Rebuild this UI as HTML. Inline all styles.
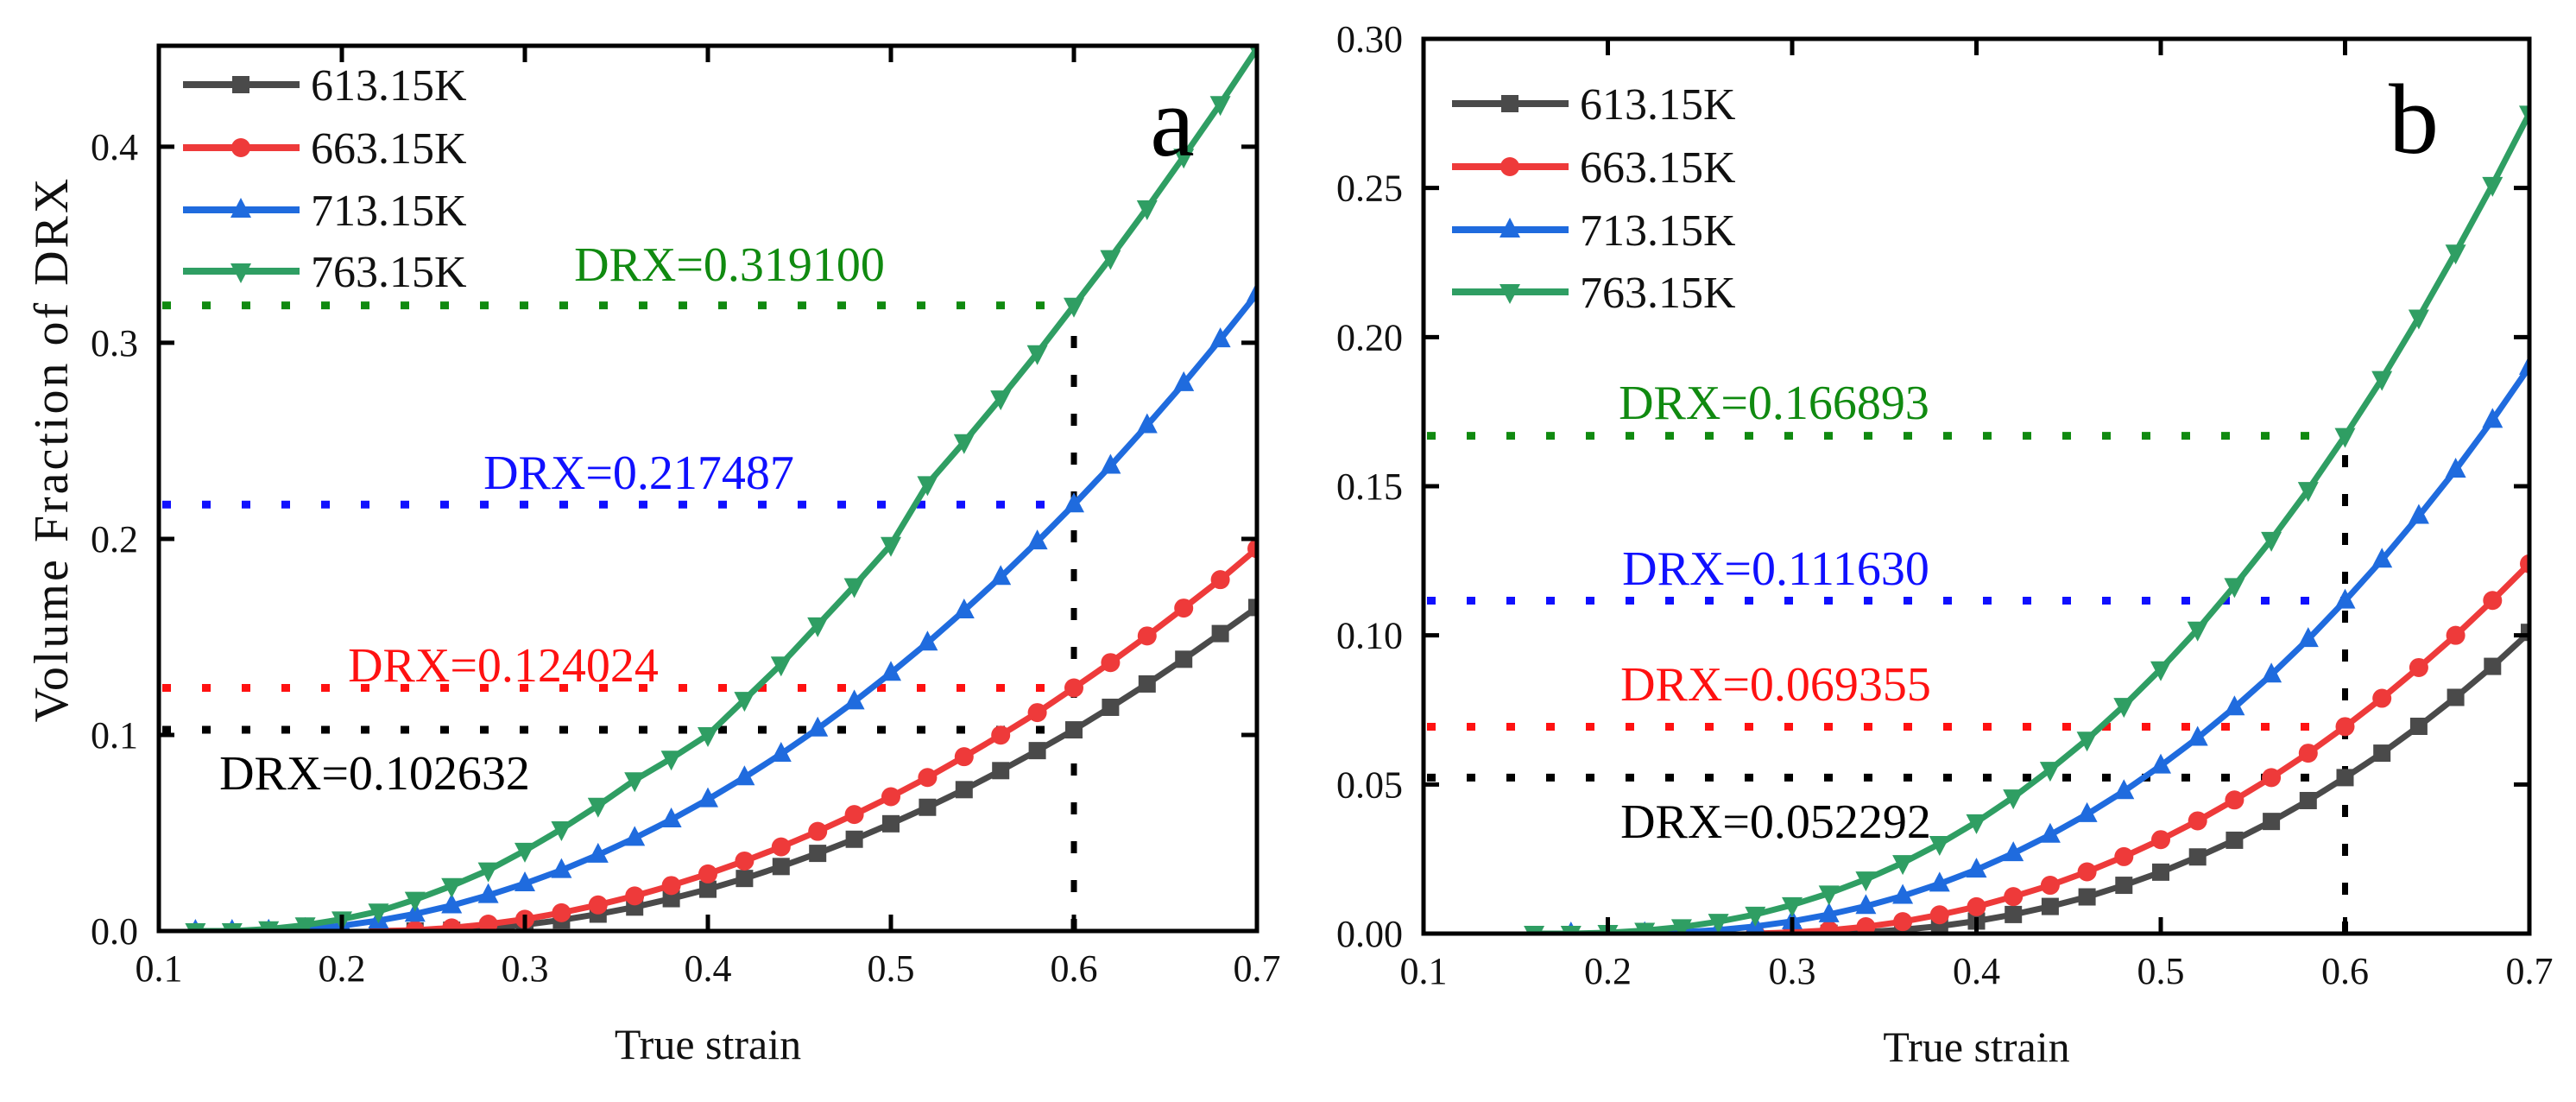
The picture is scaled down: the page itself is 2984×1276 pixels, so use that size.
<!DOCTYPE html>
<html><head><meta charset="utf-8"><style>
html,body{margin:0;padding:0;background:#fff;}
svg{display:block;}
text{font-family:"Liberation Serif",serif;}
</style></head>
<body>
<svg id="chart" width="2984" height="1276" viewBox="0 0 2984 1276" xmlns="http://www.w3.org/2000/svg"></svg>
<script>
// ---- Panel a data ----
const strainA = [0.12,0.14,0.16,0.18,0.20,0.22,0.24,0.26,0.28,0.30,0.32,0.34,0.36,0.38,0.40,0.42,0.44,0.46,0.48,0.50,0.52,0.54,0.56,0.58,0.60,0.62,0.64,0.66,0.68,0.70];
const a613 = [null,null,null,null,null,null,0,0.0004,0.00145,0.0032,0.0056,0.0086,0.0122,0.0165,0.0213,0.0268,0.0329,0.0396,0.0468,0.0547,0.0631,0.0721,0.0818,0.092,0.1026,0.1141,0.126,0.1386,0.1517,0.165];
const a663 = [null,null,null,null,null,0,0.0004,0.0016,0.0035,0.006,0.0093,0.0133,0.0179,0.0232,0.0291,0.0357,0.0429,0.0508,0.0594,0.0685,0.0783,0.0889,0.0999,0.1114,0.124,0.1369,0.1505,0.1647,0.1792,0.195];
const a713 = [0,0,0.0001,0.001,0.0027,0.0053,0.0087,0.013,0.0182,0.0242,0.031,0.0388,0.0474,0.0568,0.0671,0.0783,0.0903,0.1032,0.117,0.1316,0.147,0.1634,0.1805,0.1986,0.2175,0.2372,0.2579,0.2793,0.3017,0.325];
const a763 = [0,0,0.001,0.003,0.006,0.01,0.016,0.023,0.031,0.041,0.052,0.064,0.077,0.088,0.100,0.118,0.136,0.156,0.176,0.197,0.228,0.2494,0.2717,0.2948,0.319,0.3433,0.3687,0.395,0.4219,0.45];
const drxA = [0.102632,0.124024,0.217487,0.319100];
// ---- Panel b data ----
const strainB = [0.16,0.18,0.20,0.22,0.24,0.26,0.28,0.30,0.32,0.34,0.36,0.38,0.40,0.42,0.44,0.46,0.48,0.50,0.52,0.54,0.56,0.58,0.60,0.62,0.64,0.66,0.68,0.70];
const b613 = [null,null,null,null,null,null,null,0,0.0001,0.0005,0.0013,0.0025,0.0042,0.0064,0.0091,0.0123,0.0162,0.0206,0.0257,0.0313,0.0376,0.0446,0.0523,0.0605,0.0695,0.0792,0.0896,0.101];
const b663 = [null,null,null,null,null,null,0,0.0004,0.0011,0.0023,0.004,0.0063,0.009,0.0124,0.0162,0.0207,0.0258,0.0315,0.0378,0.0448,0.0523,0.0605,0.0694,0.0789,0.0892,0.1,0.1117,0.124];
const b713 = [null,0,0,0.0001,0.0005,0.0012,0.0024,0.0041,0.0064,0.0092,0.0126,0.0167,0.0214,0.0269,0.0331,0.04,0.0477,0.0563,0.0656,0.0758,0.0868,0.0987,0.1116,0.1253,0.14,0.1555,0.1722,0.19];
const b763 = [0,0,0.0003,0.001,0.0022,0.004,0.0064,0.0096,0.0135,0.0182,0.0237,0.0301,0.0374,0.0457,0.055,0.0651,0.0764,0.0887,0.102,0.1166,0.1321,0.1488,0.1669,0.186,0.2066,0.2284,0.2511,0.275];
const drxB = [0.052292,0.069355,0.111630,0.166893];
// ---- shared labels ----
const xTicks = [0.1,0.2,0.3,0.4,0.5,0.6,0.7];
const yTicksA = [0.0,0.1,0.2,0.3,0.4];
const yTickLabelsA = ["0.0","0.1","0.2","0.3","0.4"];
const yTicksB = [0,0.05,0.10,0.15,0.20,0.25,0.30];
const yTickLabelsB = ["0.00","0.05","0.10","0.15","0.20","0.25","0.30"];
const seriesNames = ["613.15K","663.15K","713.15K","763.15K"];

const NS = "http://www.w3.org/2000/svg";
const svg = document.getElementById('chart');
function mk(tag, attrs, parent){ const e=document.createElementNS(NS,tag); for(const k in attrs) e.setAttribute(k,attrs[k]); (parent||svg).appendChild(e); return e; }

const lineCols = ["#4a4a4a","#ee3a3a","#1f6bde","#2f9e63"];
const dotCols = ["#000000","#ff1111","#1010ff","#108a10"];
const markers = ["square","circle","up","down"];

function marker(g, type, cx, cy, col){
  let m;
  if(type==="square") m = mk('rect',{x:cx-10,y:cy-10,width:20,height:20,fill:col},g);
  else if(type==="circle") m = mk('circle',{cx:cx,cy:cy,r:11,fill:col},g);
  else if(type==="up") m = mk('polygon',{points:`${cx},${cy-14} ${cx+12},${cy+9} ${cx-12},${cy+9}`,fill:col},g);
  else m = mk('polygon',{points:`${cx},${cy+14} ${cx+12},${cy-9} ${cx-12},${cy-9}`,fill:col},g);
  return m;
}

function panel(p){
  const g = mk('g',{});
  
  
  const X = v => p.x0 + (v-0.1)/0.6*(p.x1-p.x0);
  const Y = v => p.y0 - v/p.ymax*(p.y0-p.yTop);
  const clipId = p.name+'-clip';
  const cp = mk('clipPath',{id:clipId},g);
  mk('rect',{x:p.x0,y:p.yTop,width:p.x1-p.x0,height:p.y0-p.yTop},cp);
  // reference lines
  const refG = mk('g',{},g);
  
  
  p.drx.forEach((v,i)=>{
    const l = mk('line',{x1:p.x0+4,y1:Y(v),x2:X(0.6),y2:Y(v),stroke:dotCols[i],'stroke-width':9,'stroke-dasharray':'10 36'},refG);
    
    
  });
  const vl = mk('line',{x1:X(0.6),y1:p.y0,x2:X(0.6),y2:Y(p.drx[3]),stroke:'#000','stroke-width':7,'stroke-dasharray':'14 31'},refG);
  
  
  // series
  p.series.forEach((arr,i)=>{
    const sg = mk('g',{'clip-path':`url(#${clipId})`},g);
    
    
    const pts=[];
    arr.forEach((v,j)=>{ if(v!==null) pts.push([X(p.strain[j]),Y(v)]); });
    const pl = mk('polyline',{points:pts.map(q=>q.join(',')).join(' '),fill:'none',stroke:lineCols[i],'stroke-width':7,'stroke-linejoin':'round'},sg);
    
    
    pts.forEach(q=>{
      const m = marker(sg, markers[i], q[0], q[1], lineCols[i]);
      
      
    });
  });
  // DRX labels
  p.drx.forEach((v,i)=>{
    const t = mk('text',{x:p.labX[i],y:p.labY[i],'text-anchor':'middle','font-size':56,fill:dotCols[i]},g);
    t.textContent = 'DRX='+v.toFixed(6);
    
    
  });
  // axes frame
  const fr = mk('rect',{x:p.x0,y:p.yTop,width:p.x1-p.x0,height:p.y0-p.yTop,fill:'none',stroke:'#000','stroke-width':5},g);
  
  
  xTicks.forEach(v=>{
    const x=X(v);
    mk('line',{x1:x,y1:p.y0,x2:x,y2:p.y0-19,stroke:'#000','stroke-width':5},g);
    mk('line',{x1:x,y1:p.yTop,x2:x,y2:p.yTop+19,stroke:'#000','stroke-width':5},g);
    const t = mk('text',{x:x,y:p.y0+58,'text-anchor':'middle','font-size':44,fill:'#111'},g);
    t.textContent = v.toFixed(1);
    
    
  });
  p.yTicks.forEach((v,i)=>{
    const y=Y(v);
    mk('line',{x1:p.x0,y1:y,x2:p.x0+18,y2:y,stroke:'#000','stroke-width':5},g);
    mk('line',{x1:p.x1,y1:y,x2:p.x1-18,y2:y,stroke:'#000','stroke-width':5},g);
    const t = mk('text',{x:p.x0-24,y:y+15,'text-anchor':'end','font-size':44,fill:'#111'},g);
    t.textContent = p.yTickLabels[i];
    
    
  });
  const xt = mk('text',{x:(p.x0+p.x1)/2,y:p.y0+148,'text-anchor':'middle','font-size':50,fill:'#111'},g);
  xt.textContent='True strain';
  
  
  // panel letter
  const pl = mk('text',{x:p.letterX,y:p.letterY,'text-anchor':'middle','font-size':116,fill:'#000'},g);
  pl.textContent=p.letter;
  
  
  // legend
  const lg = mk('g',{},g);
  
  
  seriesNames.forEach((n,i)=>{
    const y=p.legY[i];
    const e = mk('g',{},lg);
    
    
    mk('line',{x1:p.legX,y1:y,x2:p.legX+135,y2:y,stroke:lineCols[i],'stroke-width':8},e);
    marker(e, markers[i], p.legX+67, y, lineCols[i]);
    const t = mk('text',{x:p.legX+148,y:y+18,'font-size':52,fill:'#111'},e);
    t.textContent=n;
  });
}

panel({name:'panel-a',x0:184,x1:1456,y0:1078,yTop:53,ymax:0.4515,strain:strainA,series:[a613,a663,a713,a763],drx:drxA,
  yTicks:yTicksA,yTickLabels:yTickLabelsA,labX:[434,583,740,845],labY:[914,789,566,325],letter:'a',letterX:1358,letterY:180,
  legX:212,legY:[98,171,243,314]});
panel({name:'panel-b',x0:1649,x1:2930,y0:1081,yTop:45,ymax:0.30,strain:strainB,series:[b613,b663,b713,b763],drx:drxB,
  yTicks:yTicksB,yTickLabels:yTickLabelsB,labX:[2057,2057,2057,2055],labY:[970,811,677,485],letter:'b',letterX:2796,letterY:177,
  legX:1682,legY:[120,193,266,338]});

const yt = mk('text',{x:0,y:0,'text-anchor':'middle','font-size':56,fill:'#111','letter-spacing':3,transform:'translate(78,520) rotate(-90)'});
yt.textContent='Volume Fraction of DRX';


</script>
</body></html>
